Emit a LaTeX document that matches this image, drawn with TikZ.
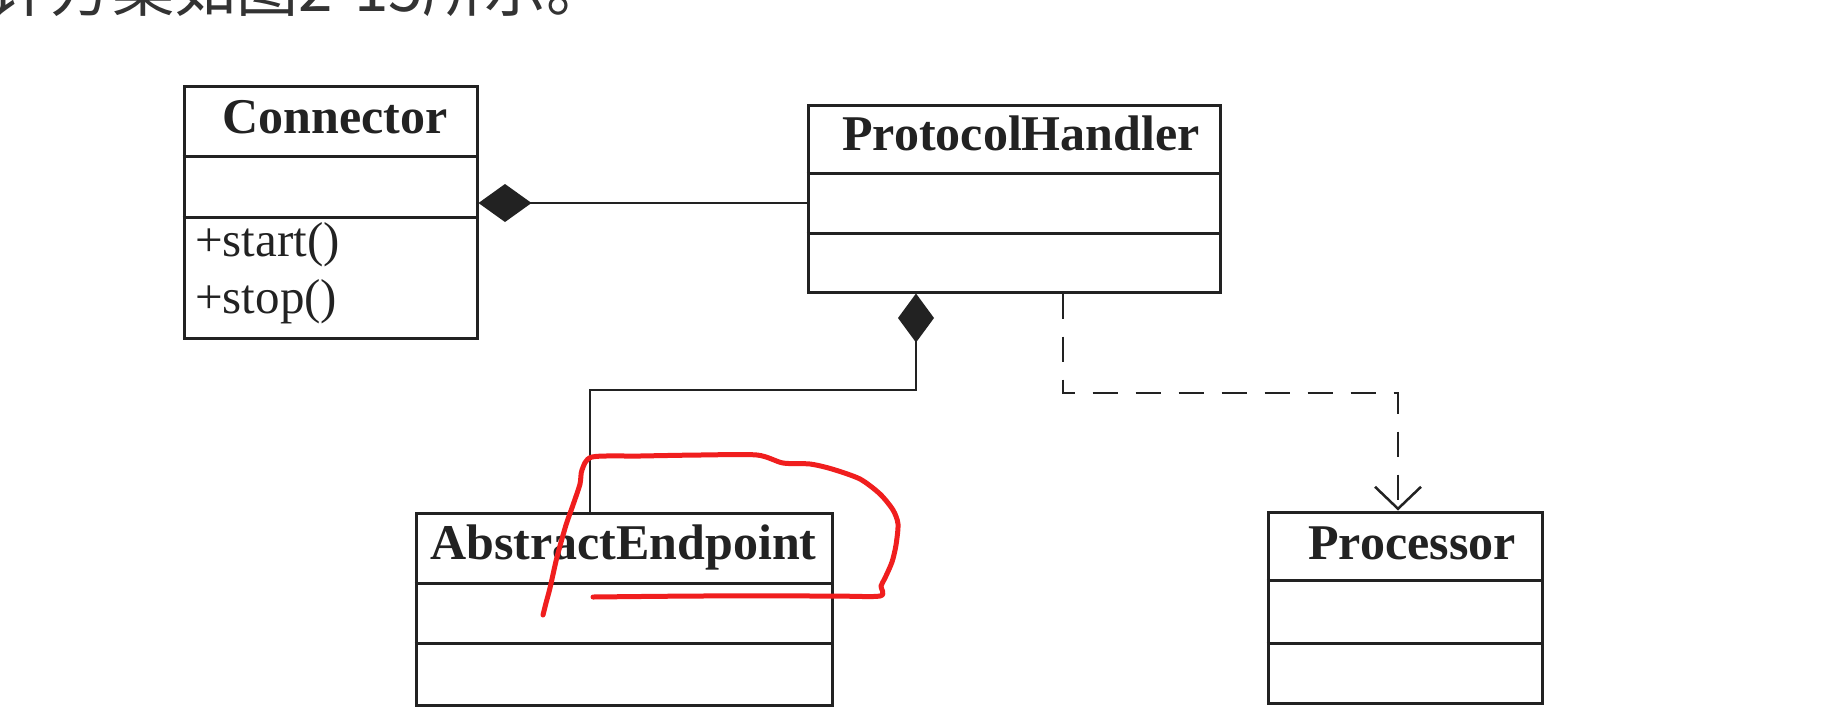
\documentclass[tikz,border=0pt]{standalone}
\usepackage{fontspec}
\setmainfont{Liberation Serif}
\newfontfamily\cjk{Noto Sans CJK SC}
\usetikzlibrary{arrows.meta}
\definecolor{ink}{HTML}{222222}
\definecolor{redpen}{HTML}{F01E1E}
\definecolor{captiongray}{HTML}{333333}
\tikzset{
  classbox/.style={draw=ink, line width=3pt, inner sep=0pt},
  divider/.style={draw=ink, line width=3pt},
  title/.style={anchor=base, inner sep=0pt, text=ink, font=\fontsize{50}{50}\selectfont\bfseries},
  member/.style={anchor=base west, inner sep=0pt, text=ink, font=\fontsize{49}{49}\selectfont},
  comp/.style={draw=ink, line width=2pt, -{Diamond[length=53pt, width=38pt, fill=ink]}},
  dep/.style={draw=ink, line width=2.5pt, dash pattern=on 25pt off 18pt, -{Straight Barb[length=22pt, width=46pt, line width=2.5pt]}},
  pen/.style={draw=redpen, line width=5pt, line cap=round, line join=round},
}
\begin{document}
\begin{tikzpicture}[x=1pt, y=-1pt]
\useasboundingbox (0,0) rectangle (1836,716);
\fill[white] (0,0) rectangle (1836,716);
\begin{scope}
\clip (0,0) rectangle (1836,716);
\node[anchor=base west, inner sep=0pt, text=captiongray, font=\cjk\fontsize{62}{62}\selectfont] (caption) at (-12,11) {计方案如图2-15所示。};
\end{scope}

% Connector
\node[classbox, minimum width=293pt, minimum height=252pt] (conn) at (330.5,212) {};
\draw[divider] (conn.west |- 0,156) -- (conn.east |- 0,156);
\draw[divider] (conn.west |- 0,217) -- (conn.east |- 0,217);
\node[title] (conntitle) at (335,133) {Connector};
\node[member] (mstart) at (195,256) {+start()};
\node[member] (mstop) at (195,313) {+stop()};

% ProtocolHandler
\node[classbox, minimum width=412pt, minimum height=187pt] (ph) at (1014,198.5) {};
\draw[divider] (ph.west |- 0,173) -- (ph.east |- 0,173);
\draw[divider] (ph.west |- 0,233) -- (ph.east |- 0,233);
\node[title] (phtitle) at (1021,150) {ProtocolHandler};

% AbstractEndpoint
\node[classbox, minimum width=416pt, minimum height=192pt] (ae) at (624,609) {};
\draw[divider] (ae.west |- 0,583) -- (ae.east |- 0,583);
\draw[divider] (ae.west |- 0,643) -- (ae.east |- 0,643);
\node[title] (aetitle) at (623.5,559) {AbstractEndpoint};

% Processor
\node[classbox, minimum width=274pt, minimum height=191pt] (proc) at (1405,607.5) {};
\draw[divider] (proc.west |- 0,580) -- (proc.east |- 0,580);
\draw[divider] (proc.west |- 0,643) -- (proc.east |- 0,643);
\node[title] (proctitle) at (1412,559) {Processor};

% connectors
\draw[comp] (ph.west |- 0,203) -- (conn.east |- 0,203);
\draw[comp, -{Diamond[length=49pt, width=36pt, fill=ink]}] (ae.north -| 590,0) -- (590,390) -- (916,390) -- (ph.south -| 916,0);
\draw[dep] (ph.south -| 1063,0) -- (1063,393) -- (1398,393) -- (proc.north -| 1398,0);

% red pen annotation
\draw[pen] plot[smooth, tension=0.45] coordinates {
 (543,615) (546,603) (550,588) (557,557) (566,525) (573,505) (580,484) (582,470) (592,457)
 (640,456) (700,455) (757,455) (783,463) (810,464) (832,469) (860,479) (880,494) (893,510)
 (898,524) (896,545) (892,562) (885,578) (881,586) (880,596) (830,596) (700,596) (593,597)};
\end{tikzpicture}
\end{document}
